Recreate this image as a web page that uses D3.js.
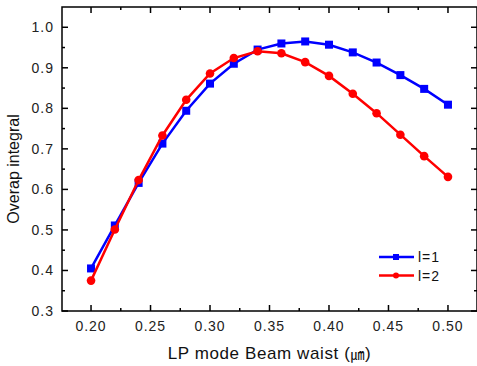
<!DOCTYPE html>
<html>
<head>
<meta charset="utf-8">
<script src="https://cdn.jsdelivr.net/npm/d3@7"></script>
<style>
  body { margin: 0; background: #fff; }
  svg { display: block; font-family: "Liberation Sans", Arial, sans-serif; }
</style>
</head>
<body>
<div id="chart"></div>
<script>
// beam waist (um) vs overlap integral
const waist = [0.20, 0.22, 0.24, 0.26, 0.28, 0.30, 0.32, 0.34, 0.36, 0.38, 0.40, 0.42, 0.44, 0.46, 0.48, 0.50];
const l1 = [0.405, 0.511, 0.616, 0.713, 0.794, 0.861, 0.910, 0.945, 0.960, 0.965, 0.957, 0.938, 0.913, 0.882, 0.848, 0.809];
const l2 = [0.375, 0.501, 0.623, 0.733, 0.821, 0.886, 0.924, 0.941, 0.936, 0.914, 0.880, 0.836, 0.788, 0.735, 0.682, 0.631];
const xTicks = [0.20, 0.25, 0.30, 0.35, 0.40, 0.45, 0.50];
const yTicks = [0.3, 0.4, 0.5, 0.6, 0.7, 0.8, 0.9, 1.0];
const seriesNames = ['l=1', 'l=2'];

const W = 477, H = 366;
const m = {left: 62, top: 7, right: 477, bottom: 311};

const svg = d3.select('#chart').append('svg').attr('width', W).attr('height', H);

const x = d3.scaleLinear().domain([0.1756, 0.5244]).range([m.left, m.right]);
const y = d3.scaleLinear().domain([0.3, 1.05]).range([m.bottom, m.top]);

const xMinor = xTicks.slice(0, -1).map(v => v + 0.025).concat([0.175, 0.525]).filter(v => x(v) > m.left + 1 && x(v) < m.right - 1);
const yMinor = yTicks.map(v => v + 0.05).filter(v => y(v) > m.top + 1);

const ax = svg.append('g').attr('stroke', '#000').attr('stroke-width', 1.5);
// frame
ax.append('rect').attr('x', m.left).attr('y', m.top)
  .attr('width', m.right - m.left).attr('height', m.bottom - m.top).attr('fill', 'none');

// ticks, all pointing inward
xTicks.forEach(v => {
  ax.append('line').attr('x1', x(v)).attr('x2', x(v)).attr('y1', m.bottom).attr('y2', m.bottom - 6);
  ax.append('line').attr('x1', x(v)).attr('x2', x(v)).attr('y1', m.top).attr('y2', m.top + 6);
});
xMinor.forEach(v => {
  ax.append('line').attr('x1', x(v)).attr('x2', x(v)).attr('y1', m.bottom).attr('y2', m.bottom - 3);
  ax.append('line').attr('x1', x(v)).attr('x2', x(v)).attr('y1', m.top).attr('y2', m.top + 3);
});
yTicks.forEach(v => {
  ax.append('line').attr('y1', y(v)).attr('y2', y(v)).attr('x1', m.left).attr('x2', m.left + 6);
  ax.append('line').attr('y1', y(v)).attr('y2', y(v)).attr('x1', m.right).attr('x2', m.right - 6);
});
yMinor.forEach(v => {
  ax.append('line').attr('y1', y(v)).attr('y2', y(v)).attr('x1', m.left).attr('x2', m.left + 3);
  ax.append('line').attr('y1', y(v)).attr('y2', y(v)).attr('x1', m.right).attr('x2', m.right - 3);
});

// tick labels
svg.append('g').selectAll('text').data(xTicks).join('text')
  .attr('x', d => x(d)).attr('y', 331)
  .attr('text-anchor', 'middle').attr('font-size', 14).attr('letter-spacing', 1).attr('fill', '#222')
  .text(d => d.toFixed(2));
svg.append('g').selectAll('text').data(yTicks).join('text')
  .attr('x', 54).attr('y', d => y(d) + 5)
  .attr('text-anchor', 'end').attr('font-size', 14).attr('letter-spacing', 1).attr('fill', '#222')
  .text(d => d.toFixed(1));

// axis titles
svg.append('text').attr('x', (m.left + m.right) / 2).attr('y', 359)
  .attr('text-anchor', 'middle').attr('font-size', 17).attr('letter-spacing', 0.6).attr('fill', '#111')
  .html('LP mode Beam waist (<tspan font-family="Noto Sans CJK JP" font-size="14">㎛</tspan>)');
svg.append('text').attr('transform', 'translate(19,169) rotate(-90)')
  .attr('text-anchor', 'middle').attr('font-size', 16).attr('fill', '#111')
  .text('Overap integral');

// series
const line = d3.line().x((d, i) => x(waist[i])).y(d => y(d));
const series = [
  {name: seriesNames[0], vals: l1, color: '#0000ff', shape: 'square'},
  {name: seriesNames[1], vals: l2, color: '#ff0000', shape: 'circle'}
];

function marker(g, s, cx, cy) {
  if (s.shape === 'square') {
    g.append('rect').attr('x', cx - 4).attr('y', cy - 4).attr('width', 8).attr('height', 8).attr('fill', s.color);
  } else {
    g.append('circle').attr('cx', cx).attr('cy', cy).attr('r', 4.3).attr('fill', s.color);
  }
}

series.forEach(s => {
  const g = svg.append('g');
  g.append('path').attr('d', line(s.vals)).attr('fill', 'none')
    .attr('stroke', s.color).attr('stroke-width', 2.5);
  s.vals.forEach((v, i) => marker(g, s, x(waist[i]), y(v)));
});

// legend
const legY = [257, 275.5];
series.forEach((s, i) => {
  const g = svg.append('g');
  g.append('line').attr('x1', 379).attr('x2', 414).attr('y1', legY[i]).attr('y2', legY[i])
    .attr('stroke', s.color).attr('stroke-width', 2.5);
  if (s.shape === 'square') {
    g.append('rect').attr('x', 393).attr('y', legY[i] - 3).attr('width', 6).attr('height', 6).attr('fill', s.color);
  } else {
    g.append('circle').attr('cx', 396).attr('cy', legY[i]).attr('r', 3).attr('fill', s.color);
  }
  g.append('text').attr('x', 418).attr('y', legY[i] + 5).attr('font-size', 14).attr('letter-spacing', 1)
    .attr('fill', '#111').text(s.name);
});
</script>
</body>
</html>
